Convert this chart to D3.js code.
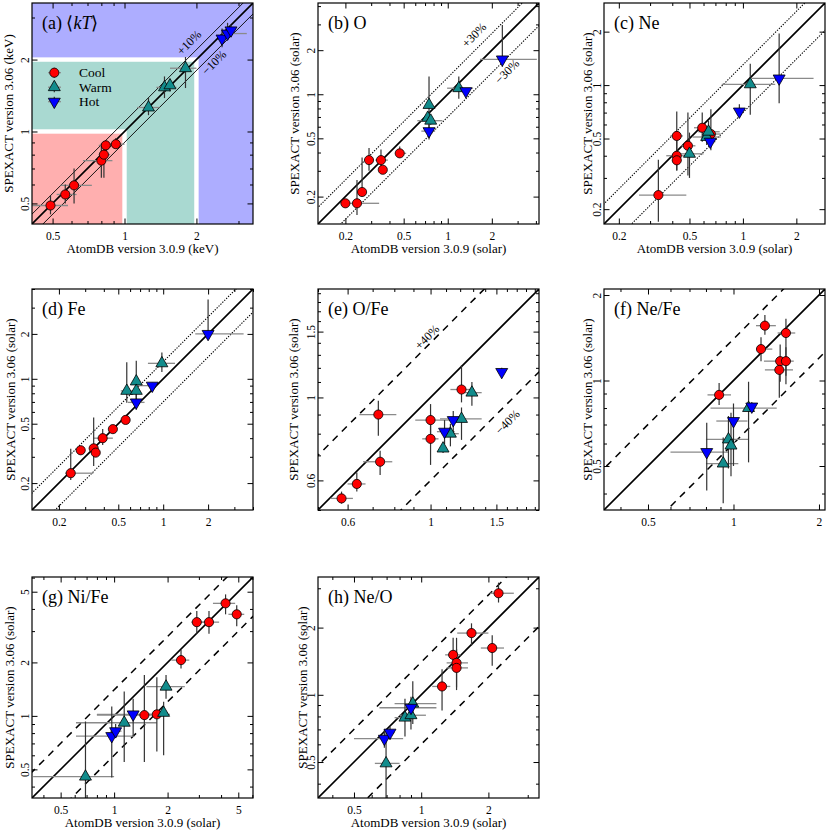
<!DOCTYPE html>
<html>
<head>
<meta charset="utf-8">
<script src="https://d3js.org/d3.v7.min.js"></script>
<style>
body { margin: 0; background: #fff; }
svg, text { font-family: "Liberation Serif", "Times New Roman", Times, serif; }
text { fill: #000; }
.tick text { font-size: 11.5px; font-family: "Liberation Serif", "Times New Roman", Times, serif; }
.axis-title { font-size: 13px; }
.panel-title { font-size: 18px; }
.pct { font-size: 12px; }
.legend text { font-size: 13.5px; }
</style>
</head>
<body>
<script>
// class names of the clusters
var groups = ["Cool", "Warm", "Hot"];

// each row: [group, AtomDB, AtomDB low, AtomDB high, SPEXACT, SPEXACT low, SPEXACT high]
var kT = [
    ["Cool", 0.49, 0.41, 0.58, 0.49, 0.45, 0.54],
    ["Cool", 0.565, 0.52, 0.63, 0.545, 0.50, 0.60],
    ["Cool", 0.615, 0.54, 0.73, 0.595, 0.50, 0.70],
    ["Cool", 0.80, 0.67, 0.89, 0.755, 0.64, 0.89],
    ["Cool", 0.82, 0.78, 0.87, 0.80, 0.64, 0.90],
    ["Cool", 0.835, 0.78, 0.94, 0.875, 0.83, 0.92],
    ["Cool", 0.92, 0.87, 1.00, 0.885, 0.85, 0.94],
    ["Warm", 1.26, 1.13, 1.40, 1.26, 1.17, 1.38],
    ["Warm", 1.47, 1.36, 1.65, 1.53, 1.38, 1.70],
    ["Warm", 1.55, 1.50, 1.62, 1.56, 1.47, 1.66],
    ["Warm", 1.80, 1.55, 2.00, 1.84, 1.52, 2.05],
    ["Hot", 2.56, 2.48, 2.66, 2.45, 2.25, 2.70],
    ["Hot", 2.70, 2.55, 3.25, 2.57, 2.42, 2.85],
    ["Hot", 2.79, 2.72, 2.87, 2.65, 2.50, 2.80]
];

var oxygen = [
    ["Cool", 0.20, 0.19, 0.21, 0.18, 0.17, 0.19],
    ["Cool", 0.24, 0.21, 0.34, 0.18, 0.15, 0.26],
    ["Cool", 0.26, 0.245, 0.275, 0.215, 0.20, 0.37],
    ["Cool", 0.29, 0.27, 0.31, 0.355, 0.30, 0.43],
    ["Cool", 0.35, 0.32, 0.39, 0.355, 0.31, 0.42],
    ["Cool", 0.36, 0.35, 0.37, 0.305, 0.29, 0.32],
    ["Cool", 0.47, 0.44, 0.52, 0.395, 0.37, 0.44],
    ["Warm", 0.745, 0.72, 0.77, 0.845, 0.55, 1.32],
    ["Warm", 0.73, 0.71, 0.76, 0.69, 0.65, 0.73],
    ["Warm", 0.765, 0.62, 0.92, 0.66, 0.62, 0.70],
    ["Warm", 1.19, 0.99, 1.49, 1.10, 0.93, 1.32],
    ["Hot", 0.745, 0.66, 0.82, 0.56, 0.49, 0.62],
    ["Hot", 1.33, 1.28, 1.38, 1.05, 1.00, 1.10],
    ["Hot", 2.36, 1.66, 4.06, 1.73, 1.54, 2.97]
];

var neon = [
    ["Cool", 0.334, 0.26, 0.48, 0.24, 0.17, 0.38],
    ["Cool", 0.424, 0.39, 0.46, 0.517, 0.45, 0.71],
    ["Cool", 0.424, 0.37, 0.53, 0.40, 0.33, 0.45],
    ["Cool", 0.424, 0.40, 0.45, 0.377, 0.33, 0.55],
    ["Cool", 0.49, 0.45, 0.54, 0.455, 0.31, 0.70],
    ["Cool", 0.59, 0.53, 0.66, 0.575, 0.48, 0.70],
    ["Cool", 0.66, 0.59, 0.75, 0.53, 0.43, 0.73],
    ["Warm", 0.50, 0.43, 0.60, 0.41, 0.30, 0.54],
    ["Warm", 0.625, 0.52, 0.75, 0.51, 0.46, 0.56],
    ["Warm", 0.64, 0.56, 0.74, 0.546, 0.47, 0.63],
    ["Warm", 1.10, 0.76, 1.52, 1.01, 0.68, 1.32],
    ["Hot", 0.655, 0.62, 0.70, 0.48, 0.45, 0.51],
    ["Hot", 0.955, 0.92, 0.99, 0.71, 0.66, 0.78],
    ["Hot", 1.60, 1.12, 2.50, 1.09, 0.79, 1.95]
];

var iron = [
    ["Cool", 0.24, 0.22, 0.34, 0.233, 0.21, 0.34],
    ["Cool", 0.28, 0.27, 0.29, 0.332, 0.31, 0.35],
    ["Cool", 0.342, 0.33, 0.35, 0.342, 0.26, 0.55],
    ["Cool", 0.353, 0.34, 0.365, 0.32, 0.30, 0.34],
    ["Cool", 0.393, 0.34, 0.46, 0.40, 0.36, 0.46],
    ["Cool", 0.46, 0.44, 0.48, 0.46, 0.44, 0.48],
    ["Cool", 0.56, 0.54, 0.58, 0.53, 0.51, 0.55],
    ["Warm", 0.57, 0.52, 0.62, 0.83, 0.69, 1.29],
    ["Warm", 0.66, 0.64, 0.68, 0.96, 0.69, 1.32],
    ["Warm", 0.66, 0.63, 0.69, 0.83, 0.78, 0.88],
    ["Warm", 0.98, 0.79, 1.20, 1.27, 1.11, 1.50],
    ["Hot", 0.66, 0.58, 0.75, 0.695, 0.62, 0.78],
    ["Hot", 0.845, 0.70, 0.90, 0.90, 0.86, 0.94],
    ["Hot", 2.00, 1.64, 3.46, 2.00, 1.85, 3.40]
];

var oFe = [
    ["Cool", 0.578, 0.54, 0.62, 0.537, 0.52, 0.56],
    ["Cool", 0.635, 0.60, 0.67, 0.587, 0.56, 0.63],
    ["Cool", 0.725, 0.645, 0.81, 0.90, 0.79, 0.98],
    ["Cool", 0.733, 0.66, 0.79, 0.673, 0.62, 0.72],
    ["Cool", 1.00, 0.91, 1.15, 0.87, 0.80, 0.96],
    ["Cool", 1.00, 0.95, 1.05, 0.775, 0.66, 0.90],
    ["Cool", 1.21, 1.13, 1.30, 1.05, 0.97, 1.22],
    ["Warm", 1.08, 1.06, 1.10, 0.73, 0.71, 0.75],
    ["Warm", 1.13, 1.07, 1.19, 0.80, 0.74, 0.85],
    ["Warm", 1.21, 1.06, 1.37, 0.876, 0.77, 0.94],
    ["Warm", 1.29, 1.22, 1.37, 1.03, 0.95, 1.10],
    ["Hot", 1.09, 1.04, 1.16, 0.81, 0.75, 0.87],
    ["Hot", 1.15, 1.12, 1.19, 0.87, 0.80, 0.92],
    ["Hot", 1.55, 1.53, 1.58, 1.17, 1.14, 1.20]
];

var neFe = [
    ["Cool", 1.29, 1.20, 1.41, 1.56, 1.45, 1.70],
    ["Cool", 1.53, 1.43, 1.65, 1.47, 1.04, 1.65],
    ["Cool", 1.25, 1.20, 1.37, 1.29, 1.17, 1.42],
    ["Cool", 1.46, 1.28, 1.63, 1.17, 0.99, 1.34],
    ["Cool", 1.53, 1.48, 1.58, 1.17, 0.97, 1.31],
    ["Cool", 1.45, 1.29, 1.62, 1.09, 0.87, 1.15],
    ["Cool", 0.89, 0.81, 0.98, 0.89, 0.82, 0.98],
    ["Warm", 1.13, 0.83, 1.42, 0.80, 0.515, 0.99],
    ["Warm", 0.96, 0.80, 1.13, 0.62, 0.49, 0.75],
    ["Warm", 0.98, 0.95, 1.01, 0.59, 0.46, 0.77],
    ["Warm", 0.92, 0.80, 1.04, 0.51, 0.37, 0.63],
    ["Hot", 1.16, 1.12, 1.20, 0.81, 0.78, 0.84],
    ["Hot", 1.00, 0.87, 1.12, 0.72, 0.50, 0.83],
    ["Hot", 0.805, 0.60, 0.96, 0.56, 0.41, 0.71]
];

var niFe = [
    ["Cool", 4.24, 3.60, 4.80, 4.30, 3.73, 4.83],
    ["Cool", 4.90, 4.40, 5.40, 3.73, 3.20, 4.20],
    ["Cool", 2.92, 2.72, 3.55, 3.37, 2.90, 3.90],
    ["Cool", 3.42, 3.10, 3.90, 3.37, 2.90, 3.90],
    ["Cool", 2.38, 2.10, 2.65, 2.06, 1.85, 2.35],
    ["Cool", 1.48, 0.80, 1.95, 1.01, 0.55, 1.70],
    ["Cool", 1.74, 1.50, 2.06, 1.02, 0.63, 1.65],
    ["Warm", 0.69, 0.35, 1.00, 0.455, 0.345, 0.93],
    ["Warm", 1.14, 0.61, 1.74, 0.915, 0.55, 1.37],
    ["Warm", 1.96, 1.52, 2.50, 1.46, 1.25, 1.70],
    ["Warm", 1.90, 1.80, 2.00, 1.04, 0.60, 1.20],
    ["Hot", 0.97, 0.61, 1.30, 0.77, 0.45, 1.13],
    ["Hot", 1.02, 0.95, 1.10, 0.82, 0.75, 0.90],
    ["Hot", 1.28, 0.80, 1.90, 1.02, 0.77, 1.25]
];

var neO = [
    ["Cool", 2.22, 2.03, 2.60, 2.85, 2.59, 3.18],
    ["Cool", 1.68, 1.45, 2.00, 1.89, 1.66, 2.09],
    ["Cool", 2.08, 1.85, 2.35, 1.62, 1.35, 1.85],
    ["Cool", 1.39, 1.28, 1.50, 1.51, 1.30, 1.80],
    ["Cool", 1.44, 1.30, 1.62, 1.39, 1.08, 1.80],
    ["Cool", 1.44, 1.30, 1.62, 1.32, 1.05, 1.60],
    ["Cool", 1.24, 1.12, 1.35, 1.09, 0.85, 1.30],
    ["Warm", 0.696, 0.62, 0.80, 0.493, 0.345, 0.70],
    ["Warm", 0.846, 0.76, 0.95, 0.79, 0.65, 0.96],
    ["Warm", 0.90, 0.80, 1.05, 0.81, 0.70, 0.95],
    ["Warm", 0.917, 0.76, 1.17, 0.913, 0.74, 1.15],
    ["Hot", 0.684, 0.50, 0.83, 0.636, 0.58, 0.70],
    ["Hot", 0.725, 0.70, 0.76, 0.677, 0.63, 0.72],
    ["Hot", 0.90, 0.65, 1.17, 0.875, 0.78, 0.98]
];

// labelled tick values of each panel
var kTTicks = [0.5, 1, 2];
var oTicks = [0.2, 0.5, 1, 2];
var neTicks = [0.2, 0.5, 1, 2];
var feTicks = [0.2, 0.5, 1, 2];
var oFeTicks = [0.6, 1, 1.5];
var neFeTicks = [0.5, 1, 2];
var niFeTicks = [0.5, 1, 2, 5];
var neOTicks = [0.5, 1, 2];

// temperature limits between Cool / Warm / Hot (keV)
var kTLimits = [1, 2];

var SIZE = 221;
var colors = { Cool: "#ff0000", Warm: "#128c8c", Hot: "#0000ff" };
var bandColors = ["#ffafaf", "#a9d9d1", "#adadff"];

// panel layout (pixels) and axis ranges
var panels = [
    { id: "a", title: ["(a) \u27e8", "kT", "\u27e9"], data: kT, ticks: kTTicks, dom: [0.41, 3.45],
      left: 32, top: 3, band: 0.1, style: "thin", unit: "keV", xTitle: true, yTitleX: 8.5,
      pct: [["+10%", 157, 39.5], ["\u221210%", 182, 59.5]] },
    { id: "b", title: ["(b) O"], data: oxygen, ticks: oTicks, dom: [0.13, 4.2],
      left: 318, top: 3, band: 0.3, style: "dot", unit: "solar", xTitle: true, yTitleX: 294.5,
      pct: [["+30%", 156, 32], ["\u221230%", 189, 68.5]] },
    { id: "c", title: ["(c) Ne"], data: neon, ticks: neTicks, dom: [0.165, 2.9],
      left: 604, top: 3, band: 0.3, style: "dot", unit: "solar", xTitle: true, yTitleX: 587, pct: [] },
    { id: "d", title: ["(d) Fe"], data: iron, ticks: feTicks, dom: [0.132, 4.0],
      left: 32, top: 289, band: 0.3, style: "dot", unit: "solar", xTitle: false, yTitleX: 10, pct: [] },
    { id: "e", title: ["(e) O/Fe"], data: oFe, ticks: oFeTicks, dom: [0.5, 1.95], fine: true,
      left: 318, top: 289, band: 0.4, style: "dash", unit: "solar", xTitle: false, yTitleX: 293,
      pct: [["+40%", 109, 48], ["\u221240%", 189.5, 133]] },
    { id: "f", title: ["(f) Ne/Fe"], data: neFe, ticks: neFeTicks, dom: [0.35, 2.1],
      left: 604, top: 289, band: 0.4, style: "dash", unit: "solar", xTitle: false, yTitleX: 587, pct: [] },
    { id: "g", title: ["(g) Ni/Fe"], data: niFe, ticks: niFeTicks, dom: [0.345, 6.05],
      left: 32, top: 577, band: 0.4, style: "dash", unit: "solar", xTitle: true, yTitleX: 9.5, pct: [] },
    { id: "h", title: ["(h) Ne/O"], data: neO, ticks: neOTicks, dom: [0.345, 3.37],
      left: 318, top: 577, band: 0.4, style: "dash", unit: "solar", xTitle: true, yTitleX: 302, pct: [] }
];

// minor tick values inside a log domain
function minorTicks(dom, majors, fine) {
    var out = [];
    var e0 = Math.floor(Math.log10(dom[0])), e1 = Math.ceil(Math.log10(dom[1]));
    for (var e = e0; e <= e1; e++) {
        for (var k = 1; k <= 9; k++) {
            var step = fine && e >= 0 ? 10 : 1; // 0.1 steps above 1 when range is short
            for (var s = 0; s < step; s++) {
                var v = +((k + s / step) * Math.pow(10, e)).toPrecision(6);
                if (v >= dom[0] && v <= dom[1] && majors.indexOf(v) < 0 && out.indexOf(v) < 0) out.push(v);
            }
        }
    }
    return out;
}

function markerPath(group) {
    if (group === "Cool") return d3.symbol().type(d3.symbolCircle).size(66)();
    return d3.symbol().type(d3.symbolTriangle).size(62)();
}

function drawPanel(svg, p) {
    var x = d3.scaleLog().domain(p.dom).range([p.left, p.left + SIZE]);
    var y = d3.scaleLog().domain(p.dom).range([p.top + SIZE, p.top]);
    var g = svg.append("g").attr("class", "panel panel-" + p.id);

    g.append("clipPath").attr("id", "clip-" + p.id)
        .append("rect")
        .attr("x", p.left).attr("y", p.top)
        .attr("width", SIZE).attr("height", SIZE);
    var inner = g.append("g").attr("clip-path", "url(#clip-" + p.id + ")");

    // coloured Cool / Warm / Hot areas for the temperature panel
    if (p.id === "a") {
        var bottom = p.top + SIZE;
        inner.append("rect").attr("x", p.left).attr("y", p.top)
            .attr("width", SIZE).attr("height", SIZE).attr("fill", bandColors[2]);
        [kTLimits[1], kTLimits[0]].forEach(function(lim, i) {
            var xs = x(lim), ys = y(lim);
            inner.append("rect").attr("x", p.left).attr("y", ys - 2.2)
                .attr("width", xs + 2.2 - p.left).attr("height", bottom - ys + 2.2).attr("fill", "#fff");
            inner.append("rect").attr("x", p.left).attr("y", ys + 2.2)
                .attr("width", xs - 2.2 - p.left).attr("height", bottom - ys - 2.2)
                .attr("fill", bandColors[1 - i]);
        });
    }

    // one-to-one line and the percentage band
    var line = d3.line()
        .x(function(d) { return x(d[0]); })
        .y(function(d) { return y(d[1]); });
    var ends = [p.dom[0] / 3, p.dom[1] * 3];
    [1 + p.band, 1 - p.band, 1].forEach(function(k) {
        var main = k === 1;
        inner.append("path")
            .datum(ends.map(function(v) { return [v, v * k]; }))
            .attr("d", line)
            .attr("fill", "none")
            .attr("stroke", "#000")
            .attr("stroke-width", main ? 1.6 : (p.style === "dash" ? 1.5 : (p.style === "dot" ? 1.1 : 0.9)))
            .attr("stroke-dasharray", main ? null : (p.style === "dash" ? "7,6" : (p.style === "dot" ? "1.3,1.4" : null)));
    });

    // error bars
    inner.selectAll(".xerr").data(p.data).enter().append("line")
        .attr("class", "xerr")
        .attr("x1", function(d) { return x(d[2]); })
        .attr("x2", function(d) { return x(d[3]); })
        .attr("y1", function(d) { return y(d[4]); })
        .attr("y2", function(d) { return y(d[4]); })
        .attr("stroke", "#8a8a8a")
        .attr("stroke-width", 1.3);
    inner.selectAll(".yerr").data(p.data).enter().append("line")
        .attr("class", "yerr")
        .attr("x1", function(d) { return x(d[1]); })
        .attr("x2", function(d) { return x(d[1]); })
        .attr("y1", function(d) { return y(d[5]); })
        .attr("y2", function(d) { return y(d[6]); })
        .attr("stroke", "#333")
        .attr("stroke-width", 1.2);

    // markers
    g.selectAll(".pt").data(p.data).enter().append("path")
        .attr("class", "pt")
        .attr("d", function(d) { return markerPath(d[0]); })
        .attr("transform", function(d) {
            return "translate(" + x(d[1]) + "," + y(d[4]) + ")" + (d[0] === "Hot" ? " rotate(180)" : "");
        })
        .attr("fill", function(d) { return colors[d[0]]; })
        .attr("stroke", "#000")
        .attr("stroke-width", 0.8);

    // band labels
    p.pct.forEach(function(t) {
        g.append("text").attr("class", "pct")
            .attr("text-anchor", "middle")
            .attr("dy", "0.35em")
            .attr("transform", "translate(" + (p.left + t[1]) + "," + (p.top + t[2]) + ") rotate(-45)")
            .text(t[0]);
    });

    // frame
    g.append("rect").attr("x", p.left).attr("y", p.top)
        .attr("width", SIZE).attr("height", SIZE)
        .attr("fill", "none").attr("stroke", "#000").attr("stroke-width", 1.2);

    // axes: ticks point inwards on all four sides
    var minors = minorTicks(p.dom, p.ticks, p.fine);
    function strip(s) {
        s.select(".domain").remove();
        s.attr("font-family", null).attr("font-size", null);
    }
    var sides = [
        { gen: d3.axisBottom(x), tr: "translate(0," + (p.top + SIZE) + ")" },
        { gen: d3.axisTop(x), tr: "translate(0," + p.top + ")" },
        { gen: d3.axisLeft(y), tr: "translate(" + p.left + ",0)" },
        { gen: d3.axisRight(y), tr: "translate(" + (p.left + SIZE) + ",0)" }
    ];
    sides.forEach(function(s, i) {
        g.append("g").attr("transform", s.tr)
            .call(s.gen.tickValues(minors).tickSizeInner(-3).tickSizeOuter(0).tickFormat(""))
            .call(strip);
        var major = g.append("g").attr("transform", s.tr)
            .call(s.gen.tickValues(p.ticks).tickSizeInner(-5.5).tickSizeOuter(0)
                .tickPadding(i === 0 ? 7.8 : 0)
                .tickFormat(i < 1 || i === 2 ? function(d) { return String(d); } : ""))
            .call(strip);
        major.selectAll("line").attr("stroke-width", 1);
        if (i === 2) {
            // vertical labels on the left axis
            major.selectAll("text")
                .attr("x", null).attr("dy", null)
                .attr("text-anchor", "middle")
                .attr("transform", "translate(-3,0) rotate(-90)");
        }
    });

    // panel title
    var title = g.append("text").attr("class", "panel-title")
        .attr("x", p.left + 10).attr("y", p.top + 26);
    p.title.forEach(function(part, i) {
        title.append("tspan").style("font-style", i === 1 ? "italic" : "normal").text(part);
    });

    // axis titles
    g.append("text").attr("class", "axis-title")
        .attr("text-anchor", "middle")
        .attr("transform", "translate(" + (p.yTitleX + 4.5) + "," + (p.top + SIZE / 2) + ") rotate(-90)")
        .text("SPEXACT version 3.06 (" + p.unit + ")");
    if (p.xTitle) {
        g.append("text").attr("class", "axis-title")
            .attr("text-anchor", "middle")
            .attr("x", p.left + SIZE / 2)
            .attr("y", p.top + SIZE + 29)
            .text("AtomDB version 3.0.9 (" + p.unit + ")");
    }
}

window.onload = function() {
    var svg = d3.select("body")
        .append("svg")
        .attr("width", 830)
        .attr("height", 830)
        .attr("font-family", "Liberation Serif, serif")
        .style("background-color", "#fff");

    panels.forEach(function(p) { drawPanel(svg, p); });

    // legend inside panel (a)
    var legend = svg.append("g").attr("class", "legend");
    groups.forEach(function(grp, i) {
        var ly = 72.7 + i * 14.5;
        legend.append("line").attr("x1", 48).attr("x2", 61).attr("y1", ly).attr("y2", ly)
            .attr("stroke", "#8a8a8a").attr("stroke-width", 1.2);
        legend.append("line").attr("x1", 54.3).attr("x2", 54.3).attr("y1", ly - 5).attr("y2", ly + 5)
            .attr("stroke", "#333").attr("stroke-width", 1.2);
        legend.append("path")
            .attr("d", markerPath(grp))
            .attr("transform", "translate(54.3," + ly + ")" + (grp === "Hot" ? " rotate(180)" : ""))
            .attr("fill", colors[grp])
            .attr("stroke", "#000")
            .attr("stroke-width", 0.8);
        legend.append("text").attr("x", 79).attr("y", ly + 4.5).text(grp);
    });
};
</script>
</body>
</html>
